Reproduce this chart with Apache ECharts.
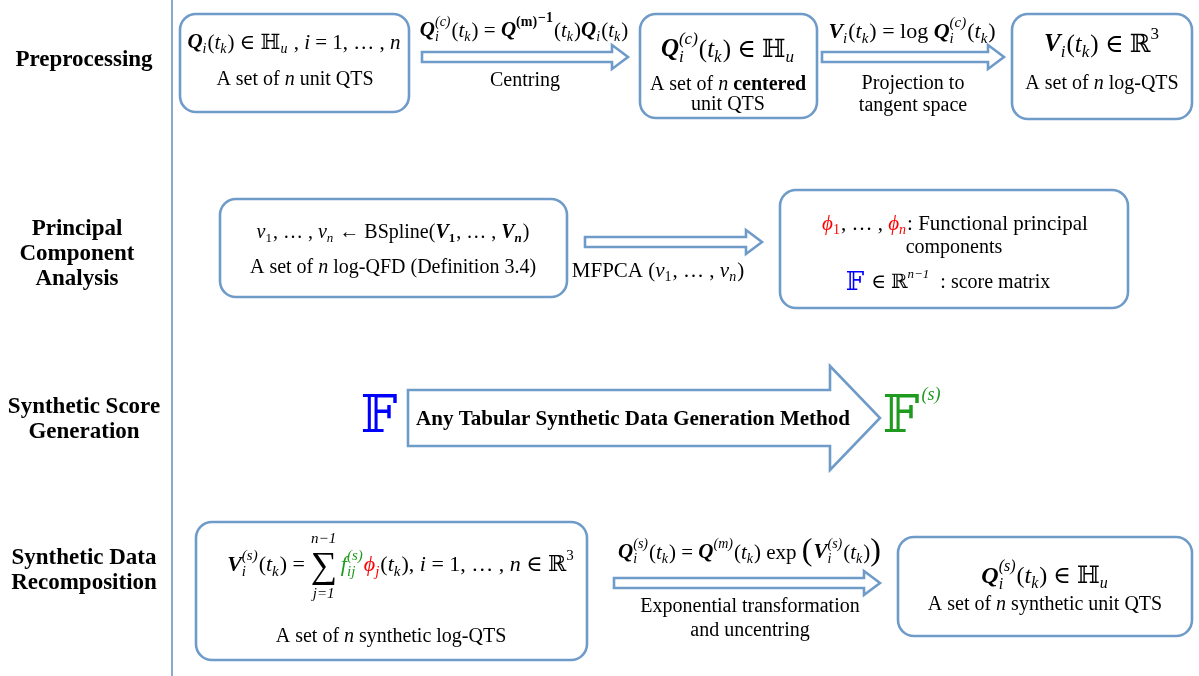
<!DOCTYPE html>
<html><head><meta charset="utf-8">
<script src="https://cdn.jsdelivr.net/npm/echarts@6/dist/echarts.min.js"></script>
<style>html,body{margin:0;padding:0;background:#fff}#c{width:1199px;height:676px}</style>
</head><body><div id="c"></div>
<script>
// ---------- content (text only) ----------
const stageLabels = [
  ['Preprocessing'],
  ['Principal', 'Component', 'Analysis'],
  ['Synthetic Score', 'Generation'],
  ['Synthetic Data', 'Recomposition']
];
const RED = '#ff0000', GREEN = '#1e9a1e', BLUE = '#0000ff';
// token: [type, text, style/extra, color, dy]
const fBox1 = [['bi','Q'],['_','i'],['n','('],['i','t'],['_','k'],['n',') ∈ ℍ'],['_','u'],['n',' , '],['i','i'],['n',' = 1, … , '],['i','n']];
const tBox1 = [['n','A set of '],['i','n'],['n',' unit QTS']];
const fArrow1 = [['bi','Q'],['_^','i','(c)'],['n','('],['i','t'],['_','k'],['n',') = '],['bi','Q'],['^','(m)','b'],['^','−1','b',null,-4],['n','('],['i','t'],['_','k'],['n',')'],['bi','Q'],['_','i'],['n','('],['i','t'],['_','k'],['n',')']];
const tArrow1 = [['n','Centring']];
const fBox2 = [['bi','Q'],['_^','i','(c)'],['n','('],['i','t'],['_','k'],['n',') ∈ ℍ'],['_','u']];
const tBox2a = [['n','A set of '],['i','n'],['b',' centered']];
const tBox2b = [['n','unit QTS']];
const fArrow2 = [['bi','V'],['_','i'],['n','('],['i','t'],['_','k'],['n',') = log '],['bi','Q'],['_^','i','(c)'],['n','('],['i','t'],['_','k'],['n',')']];
const tArrow2a = [['n','Projection to']];
const tArrow2b = [['n','tangent space']];
const fBox3 = [['bi','V'],['_','i'],['n','('],['i','t'],['_','k'],['n',') ∈ ℝ'],['^','3']];
const tBox3 = [['n','A set of '],['i','n'],['n',' log-QTS']];
const fBox4 = [['i','v'],['_','1','n'],['n',', … , '],['i','v'],['_','n'],['n',' ← BSpline('],['bi','V'],['_','1','b'],['n',', … , '],['bi','V'],['_','n','bi'],['n',')']];
const tBox4 = [['n','A set of '],['i','n'],['n',' log-QFD (Definition 3.4)']];
const tArrow3 = [['n','MFPCA ('],['i','v'],['_','1','n'],['n',', … , '],['i','v'],['_','n'],['n',')']];
const fBox5a = [['i','ϕ',null,RED],['_','1','n',RED],['n',', … , '],['i','ϕ',null,RED],['_','n','i',RED],['n',': Functional principal']];
const tBox5b = [['n','components']];
const fBox5c = [['dbl','𝔽',1.3,BLUE],['n',' ∈ ℝ'],['^','n−1','i'],['n','  : score matrix']];
const tScoreMethod = [['b','Any Tabular Synthetic Data Generation Method']];
const fScoreIn = [['dbl','𝔽',2.6,BLUE]];
const fScoreOut = [['dbl','𝔽',1.86,GREEN],['^','(s)','i',GREEN,-12]];
const fBox6 = [['bi','V'],['_^','i','(s)'],['n','('],['i','t'],['_','k'],['n',') = '],['sum','n−1','j=1'],['i','f',null,GREEN],['_^','ij','(s)',GREEN],['i','ϕ',null,RED],['_','j','i',RED],['n','('],['i','t'],['_','k'],['n','), '],['i','i'],['n',' = 1, … , '],['i','n'],['n',' ∈ ℝ'],['^','3']];
const tBox6 = [['n','A set of '],['i','n'],['n',' synthetic log-QTS']];
const fArrow4 = [['bi','Q'],['_^','i','(s)'],['n','('],['i','t'],['_','k'],['n',') = '],['bi','Q'],['^','(m)','i'],['n','('],['i','t'],['_','k'],['n',') exp '],['big','('],['bi','V'],['_^','i','(s)'],['n','('],['i','t'],['_','k'],['n',')'],['big',')']];
const tArrow4a = [['n','Exponential transformation']];
const tArrow4b = [['n','and uncentring']];
const fBox7 = [['bi','Q'],['_^','i','(s)'],['n','('],['i','t'],['_','k'],['n',') ∈ ℍ'],['_','u']];
const tBox7 = [['n','A set of '],['i','n'],['n',' synthetic unit QTS']];

// ---------- layout ----------
const EDGE = '#6f9bc9';
const SERIF = "'Liberation Serif','DejaVu Serif',serif";
const boxes = [
  [180, 14, 229, 98], [640, 14, 177, 104], [1012, 14, 180, 105],
  [220, 199, 347, 98], [780, 190, 348, 118],
  [196, 522, 391, 138], [898, 537, 294, 99]
];
// [x1, x2, yc, shaftHalf, headHalf, headLen]
const arrows = [
  [422, 628, 57, 5, 12, 16], [822, 1004, 57, 5, 12, 16],
  [585, 762, 242, 5, 12, 16], [614, 880, 583, 5, 12, 16],
  [408, 880, 418, 28, 52, 50]
];
// [tokens, cx, cy, size, color]
const lines = [
  [fBox1, 294, 43, 21], [tBox1, 295, 80, 20],
  [fArrow1, 524, 31, 21], [tArrow1, 525, 81, 20],
  [fBox2, 728, 50, 25], [tBox2a, 728, 85, 20], [tBox2b, 728, 105, 20],
  [fArrow2, 912, 32, 22], [tArrow2a, 913, 84, 20], [tArrow2b, 913, 106, 20],
  [fBox3, 1102, 45, 25], [tBox3, 1102, 84, 20],
  [fBox4, 393, 233, 20], [tBox4, 393, 268, 20],
  [tArrow3, 658, 271, 21],
  [fBox5a, 955, 224, 21], [tBox5b, 954, 248, 20], [fBox5c, 948, 283, 20],
  [tScoreMethod, 633, 420, 21], [fScoreIn, 380, 418, 20], [fScoreOut, 912, 418, 28],
  [fBox6, 401, 565, 22], [tBox6, 391, 637, 20],
  [fArrow4, 750, 553, 21], [tArrow4a, 750, 607, 20], [tArrow4b, 750, 631, 20],
  [fBox7, 1045, 577, 24], [tBox7, 1045, 605, 20]
];
const stagePos = [[84, 60], [77, 229], [84, 407], [84, 558]];

// ---------- rendering helpers ----------
const mctx = document.createElement('canvas').getContext('2d');
function fontOf(style, size) {
  const it = style.indexOf('i') >= 0 ? 'italic ' : '';
  const bd = style.indexOf('b') >= 0 ? 'bold ' : '';
  return it + bd + size + 'px ' + SERIF;
}
function w(text, font) { mctx.font = font; return mctx.measureText(text).width; }

function mathLine(tokens, cx, cy, size, def) {
  def = def || '#000';
  const items = []; let x = 0;
  const ss = Math.round(size * 0.66);
  tokens.forEach(tok => {
    const ty = tok[0];
    if (ty === 'n' || ty === 'i' || ty === 'b' || ty === 'bi') {
      const f = fontOf(ty, size);
      items.push({x, t: tok[1], f, c: tok[3] || def, dy: 0});
      x += w(tok[1], f);
    } else if (ty === '_') {
      const f = fontOf(tok[2] || 'i', ss);
      items.push({x, t: tok[1], f, c: tok[3] || def, dy: size * 0.3});
      x += w(tok[1], f) + 1;
    } else if (ty === '^') {
      const f = fontOf(tok[2] || 'n', ss);
      items.push({x, t: tok[1], f, c: tok[3] || def, dy: -size * 0.4 + (tok[4] || 0)});
      x += w(tok[1], f) + 1;
    } else if (ty === '_^') {
      const f = fontOf('i', ss);
      items.push({x, t: tok[1], f, c: tok[3] || def, dy: size * 0.32});
      items.push({x, t: tok[2], f, c: tok[3] || def, dy: -size * 0.42});
      x += Math.max(w(tok[1], f), w(tok[2], f)) + 1;
    } else if (ty === 'sum') {
      const fb = fontOf('n', Math.round(size * 1.7));
      const fs = fontOf('i', ss);
      const wb = w('∑', fb), wa = w(tok[1], fs), wc = w(tok[2], fs);
      const mw = Math.max(wb, wa, wc);
      items.push({x: x + (mw - wb) / 2, t: '∑', f: fb, c: def, dy: 2});
      items.push({x: x + (mw - wa) / 2, t: tok[1], f: fs, c: def, dy: -size * 1.2});
      items.push({x: x + (mw - wc) / 2, t: tok[2], f: fs, c: def, dy: size * 1.3});
      x += mw + 4;
    } else if (ty === 'big') {
      const f = fontOf('n', Math.round(size * 1.5));
      items.push({x, t: tok[1], f, c: def, dy: -1});
      x += w(tok[1], f) + 1;
    } else if (ty === 'dbl') {
      const f = fontOf('n', Math.round(size * tok[2]));
      items.push({x, t: tok[1], f, c: tok[3] || def, dy: 0});
      x += w(tok[1], f) + 2;
    }
  });
  const x0 = cx - x / 2;
  return items.map(it => ({
    type: 'text', x: x0 + it.x, y: cy + it.dy, z: 10,
    style: {text: it.t, font: it.f, fill: it.c, align: 'left', verticalAlign: 'middle'}
  }));
}

function arrowPoly(a) {
  const [x1, x2, y, sh, hh, hl] = a;
  const xb = x2 - hl;
  return [[x1, y - sh], [xb, y - sh], [xb, y - hh], [x2, y], [xb, y + hh], [xb, y + sh], [x1, y + sh]];
}

// ---------- build option ----------
const elements = [];
elements.push({type: 'line', shape: {x1: 172, y1: 0, x2: 172, y2: 676}, style: {stroke: '#8aa9d1', lineWidth: 2}});
boxes.forEach(b => elements.push({
  type: 'rect', shape: {x: b[0], y: b[1], width: b[2], height: b[3], r: 16},
  style: {fill: '#fff', stroke: EDGE, lineWidth: 2.6}
}));
arrows.forEach(a => elements.push({
  type: 'polygon', shape: {points: arrowPoly(a)},
  style: {fill: '#fff', stroke: EDGE, lineWidth: 2.6, lineJoin: 'miter'}
}));
lines.forEach(l => mathLine(l[0], l[1], l[2], l[3], l[4]).forEach(e => elements.push(e)));
stageLabels.forEach((lab, i) => lab.forEach((s, j) => elements.push({
  type: 'text', x: stagePos[i][0], y: stagePos[i][1] + j * 25, z: 10,
  style: {text: s, font: 'bold 23px ' + SERIF, fill: '#000', align: 'center', verticalAlign: 'middle'}
})));

const chart = echarts.init(document.getElementById('c'), null, {renderer: 'canvas'});
chart.setOption({backgroundColor: '#fff', animation: false, graphic: {elements}});
</script></body></html>
